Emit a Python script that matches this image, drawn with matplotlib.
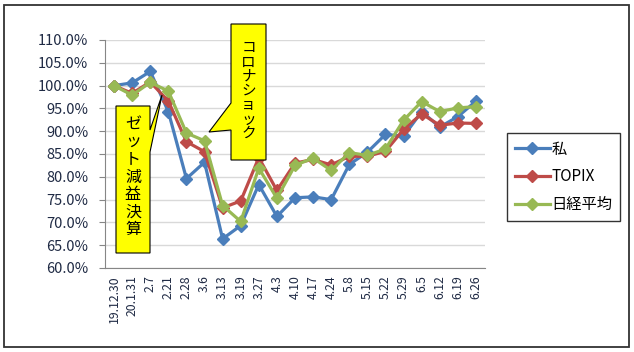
import matplotlib
matplotlib.use("Agg")
import matplotlib.pyplot as plt
import numpy as np
from matplotlib.patches import Polygon, Rectangle

plt.rcParams["font.family"] = ["Noto Sans CJK JP", "DejaVu Sans"]

# data (percent of 19.12.30 value)
dates = ["19.12.30", "20.1.31", "2.7", "2.21", "2.28", "3.6", "3.13", "3.19", "3.27", "4.3",
         "4.10", "4.17", "4.24", "5.8", "5.15", "5.22", "5.29", "6.5", "6.12", "6.19", "6.26"]
watashi = [100.0, 100.6, 103.1, 94.3, 79.6, 83.2, 66.4, 69.3, 78.3, 71.3,
           75.4, 75.6, 75.0, 82.7, 85.4, 89.3, 88.9, 94.3, 90.9, 93.2, 96.6]
topix = [100.0, 98.3, 100.8, 96.6, 87.7, 85.5, 73.2, 74.7, 84.2, 77.0,
         83.0, 83.8, 82.6, 84.5, 84.5, 85.6, 90.4, 93.8, 91.3, 91.8, 91.7]
nikkei = [100.0, 97.9, 100.7, 98.8, 89.6, 87.9, 73.7, 70.2, 81.9, 75.3,
          82.5, 84.1, 81.4, 85.3, 84.7, 86.1, 92.4, 96.5, 94.3, 95.1, 95.4]
series_names = ["私", "TOPIX", "日経平均"]
colors = ["#4A7EBB", "#BE4B48", "#98B954"]

W, H = 634, 352


def fx(px):
    return px / W


def fy(py):
    return 1 - py / H


fig = plt.figure(figsize=(W / 100, H / 100), dpi=100)
ax = fig.add_axes([fx(105), fy(268), (485 - 105) / W, (268 - 40) / H])

x = np.arange(len(dates))
for vals, name, c in zip([watashi, topix, nikkei], series_names, colors):
    ax.plot(x, vals, color=c, lw=2.3, marker="D", ms=6.5, label=name)

ax.set_xlim(-0.5, len(dates) - 0.5)
ax.set_ylim(60, 110)
yt = np.arange(60, 110.1, 5)
ax.set_yticks(yt)
ax.set_yticklabels([f"{v:.1f}%" for v in yt])
ax.set_xticks(x)
ax.set_xticklabels(dates)
ax.grid(axis="y", color="#D9D9D9", lw=1)
ax.set_axisbelow(True)
for s in ["top", "right"]:
    ax.spines[s].set_visible(False)
for s in ["left", "bottom"]:
    ax.spines[s].set_color("#868686")
ax.tick_params(axis="y", length=4, color="#868686", pad=8, labelsize=10.5, labelcolor="#1F2A44")
ax.tick_params(axis="x", length=0, rotation=90, labelsize=8.8, pad=5, labelcolor="#1F2A44")

leg = ax.legend(loc="upper left", bbox_to_anchor=(fx(507), fy(133)), bbox_transform=fig.transFigure,
                frameon=True, fancybox=False, edgecolor="black", borderaxespad=0,
                handlelength=2.3, labelspacing=0.7, fontsize=11, borderpad=0.5, handletextpad=0.1)
leg.get_frame().set_linewidth(1)

# callouts
box1 = [(116, 106), (150, 106), (150, 130), (162, 95), (150, 152), (150, 253), (116, 253)]
box2 = [(231, 24), (266, 24), (266, 160), (231, 160), (231, 130), (209, 132), (231, 103)]
for pts in [box1, box2]:
    fig.add_artist(Polygon([(fx(a), fy(b)) for a, b in pts], closed=True, transform=fig.transFigure,
                           facecolor="#FFFF00", edgecolor="black", lw=0.8))
fig.text(fx(133), fy(177), "\n".join("ゼット減益決算"), ha="center", va="center",
         fontsize=11.5, linespacing=1.05)
fig.text(fx(248.5), fy(91), "\n".join("コロナショック"), ha="center", va="center",
         fontsize=10.5, linespacing=1.02)

# chart border
fig.add_artist(Rectangle((fx(4), fy(347)), fx(629) - fx(4), fy(5) - fy(347), fill=False,
                         ec="#333333", lw=1.3, transform=fig.transFigure))

fig.savefig("out.png", dpi=100)
